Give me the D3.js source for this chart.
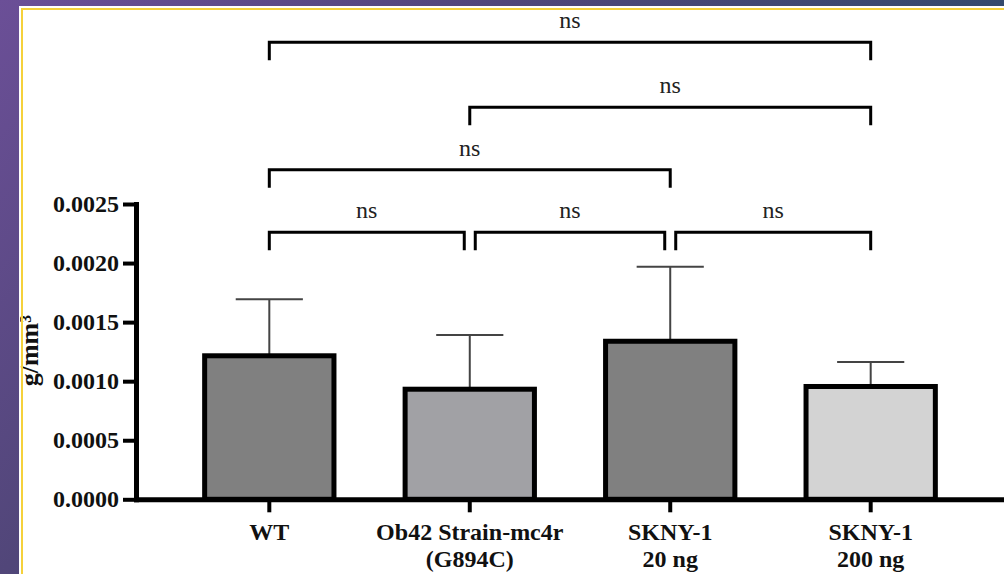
<!DOCTYPE html>
<html>
<head>
<meta charset="utf-8">
<script src="https://cdn.jsdelivr.net/npm/d3@7"></script>
<style>
  html, body { margin: 0; padding: 0; background: #fff; }
  svg { display: block; }
</style>
</head>
<body>
<svg id="chart" width="1004" height="574"></svg>
<script>
// ---- data ----
const categories = ["WT", "Ob42", "SKNY20", "SKNY200"];
const categoryLabels = [["WT"], ["Ob42 Strain-mc4r", "(G894C)"], ["SKNY-1", "20 ng"], ["SKNY-1", "200 ng"]];
const means = [0.001215, 0.000932, 0.001338, 0.000955];
const sds = [0.000478, 0.000459, 0.000631, 0.000207];
const barColors = ["#808080", "#a1a1a5", "#808080", "#d3d3d3"];
const yTicks = [0, 0.0005, 0.0010, 0.0015, 0.0020, 0.0025];
const yTitle = "g/mm³";
// significance comparisons
const compFrom = [0, 1, 0, 0, 1, 2];
const compTo = [3, 3, 2, 1, 2, 3];
const compHeight = [0.00387, 0.00332, 0.00279, 0.00226, 0.00226, 0.00226];
const compLabel = ["ns", "ns", "ns", "ns", "ns", "ns"];

// ---- layout ----
const W = 1004, H = 574;
const svg = d3.select("#chart");
const serif = "'Liberation Serif', 'Times New Roman', serif";

// background gradient (slide frame)
const defs = svg.append("defs");
const grad = defs.append("linearGradient").attr("id", "bg")
  .attr("gradientUnits", "userSpaceOnUse")
  .attr("x1", 0).attr("y1", 0).attr("x2", 569).attr("y2", 498);
grad.append("stop").attr("offset", 0).attr("stop-color", "#6b4f97");
grad.append("stop").attr("offset", 0.5).attr("stop-color", "#514679");
grad.append("stop").attr("offset", 1).attr("stop-color", "#354a6c");
svg.append("rect").attr("width", W).attr("height", H).attr("fill", "url(#bg)");
svg.append("rect").attr("x", 19).attr("y", 6).attr("width", W).attr("height", H).attr("fill", "#ffffff");

defs.append("clipPath").attr("id", "panel")
  .append("rect").attr("x", 20).attr("y", 6).attr("width", W).attr("height", H);

const g = svg.append("g").attr("clip-path", "url(#panel)");

const x = d3.scaleBand().domain(categories).range([136, 1004])
  .paddingInner(0.33).paddingOuter(0.33);
const y = d3.scaleLinear().domain([0, 0.0025]).range([499.3, 204]);

// error bars
const sw = 5;
const eb = g.append("g");
categories.forEach((c, i) => {
  const cx = x(c) + x.bandwidth() / 2;
  const top = y(means[i] + sds[i]);
  eb.append("line").attr("x1", cx).attr("x2", cx)
    .attr("y1", y(means[i])).attr("y2", top)
    .attr("stroke", "#444").attr("stroke-width", 2);
  eb.append("line").attr("x1", cx - x.bandwidth() / 4).attr("x2", cx + x.bandwidth() / 4)
    .attr("y1", top).attr("y2", top)
    .attr("stroke", "#444").attr("stroke-width", 2);
});

// bars
g.append("g").selectAll("rect").data(categories).join("rect")
  .attr("x", d => x(d) + sw / 2)
  .attr("width", x.bandwidth() - sw)
  .attr("y", (d, i) => y(means[i]))
  .attr("height", (d, i) => y(0) - y(means[i]))
  .attr("fill", (d, i) => barColors[i])
  .attr("stroke", "#000")
  .attr("stroke-width", sw);

// y axis
const yAxis = g.append("g").attr("transform", "translate(136,0)")
  .call(d3.axisLeft(y).tickValues(yTicks).tickSize(13).tickSizeOuter(0).tickPadding(4)
    .tickFormat(d3.format(".4f")));
yAxis.select(".domain").attr("stroke", "#000").attr("stroke-width", 5).attr("stroke-linecap", "square");
yAxis.selectAll(".tick line").attr("stroke", "#000").attr("stroke-width", 4);
yAxis.selectAll(".tick text").attr("font-family", serif).attr("font-weight", "bold")
  .attr("font-size", 24).attr("fill", "#111");

// x axis
const xAxis = g.append("g").attr("transform", `translate(0,${y(0)})`)
  .call(d3.axisBottom(x).tickSize(13).tickSizeOuter(0).tickFormat(""));
xAxis.select(".domain").attr("stroke", "#000").attr("stroke-width", 5).attr("stroke-linecap", "square");
xAxis.selectAll(".tick line").attr("stroke", "#000").attr("stroke-width", 4);
xAxis.selectAll(".tick").each(function (d, i) {
  const t = d3.select(this).append("text")
    .attr("font-family", serif).attr("font-weight", "bold").attr("font-size", 24)
    .attr("fill", "#111").attr("text-anchor", "middle");
  categoryLabels[i].forEach((line, j) => {
    t.append("tspan").attr("x", 0).attr("y", 41 + j * 27).text(line);
  });
});

// y title
g.append("text")
  .attr("transform", `translate(38,${(y(0) + y(0.0025)) / 2 - 1}) rotate(-90)`)
  .attr("text-anchor", "middle")
  .attr("font-family", serif).attr("font-weight", "bold").attr("font-size", 26)
  .attr("fill", "#111")
  .text(yTitle);

// significance brackets
const legLen = 18, gap = 5.5;
const br = g.append("g");
compFrom.forEach((f, k) => {
  const t = compTo[k];
  const h = compHeight[k];
  const shared = (idx) => compFrom.some((ff, m) => m !== k && compHeight[m] === h && (ff === idx || compTo[m] === idx));
  let x1 = x(categories[f]) + x.bandwidth() / 2;
  let x2 = x(categories[t]) + x.bandwidth() / 2;
  if (shared(f)) x1 += gap;
  if (shared(t)) x2 -= gap;
  const yy = y(h);
  br.append("path")
    .attr("d", `M${x1},${yy + legLen}V${yy}H${x2}V${yy + legLen}`)
    .attr("fill", "none").attr("stroke", "#000").attr("stroke-width", 3)
    .attr("stroke-linejoin", "miter");
  br.append("text")
    .attr("x", (x1 + x2) / 2).attr("y", yy - 14)
    .attr("text-anchor", "middle")
    .attr("font-family", serif).attr("font-size", 24).attr("fill", "#222")
    .text(compLabel[k]);
});

// yellow frame line
svg.append("rect").attr("x", 22).attr("y", 9).attr("width", W).attr("height", H)
  .attr("fill", "none").attr("stroke", "#f5d13b").attr("stroke-width", 2);
</script>
</body>
</html>
